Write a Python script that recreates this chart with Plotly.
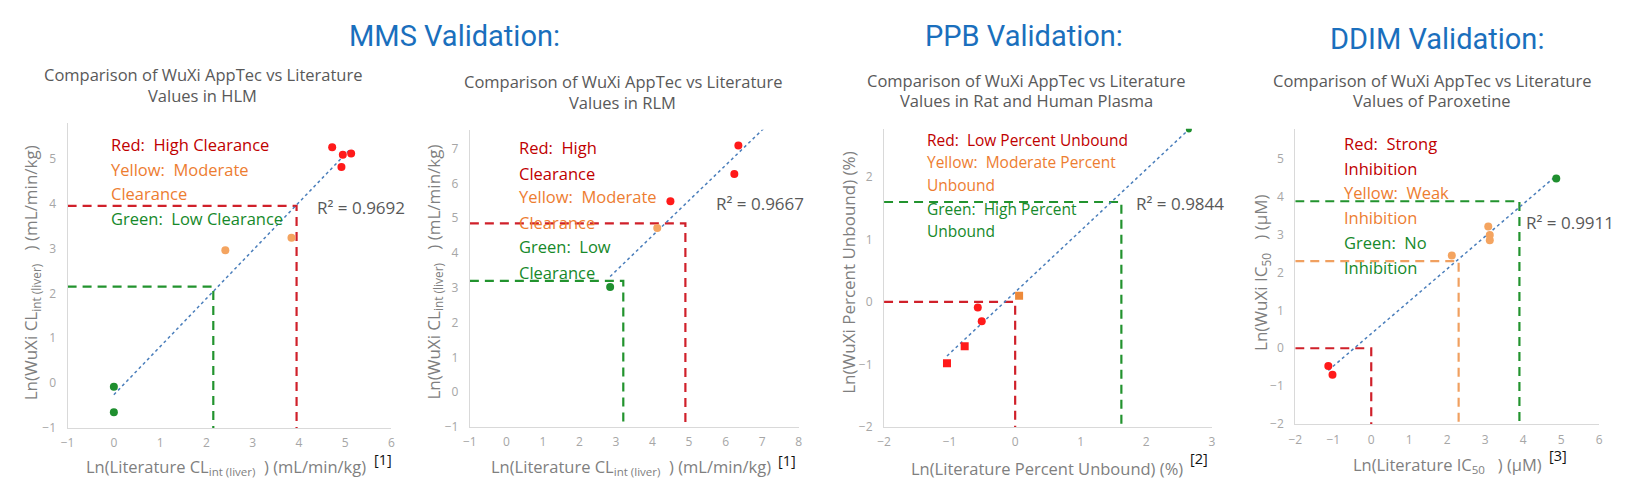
import numpy as np
import plotly.graph_objects as go

W, H = 1633, 493

# ---- data (ln values) ----
# HLM
hlm_red_x = [4.72, 4.95, 5.13, 4.92]
hlm_red_y = [5.26, 5.09, 5.12, 4.82]
hlm_yel_x = [2.41, 3.84]
hlm_yel_y = [2.96, 3.24]
hlm_grn_x = [0.0, 0.0]
hlm_grn_y = [-0.08, -0.65]
# RLM
rlm_red_x = [6.35, 6.24, 4.49]
rlm_red_y = [7.09, 6.27, 5.49]
rlm_yel_x = [4.13]
rlm_yel_y = [4.72]
rlm_grn_x = [2.84]
rlm_grn_y = [3.02]
# PPB
ppb_red_x = [-0.57, -0.51]
ppb_red_y = [-0.09, -0.31]
ppb_redsq_x = [-0.77, -1.04]
ppb_redsq_y = [-0.71, -0.98]
ppb_yelsq_x = [0.06]
ppb_yelsq_y = [0.10]
ppb_grn_x = [2.65]
ppb_grn_y = [2.76]
# DDIM
ddi_red_x = [-1.13, -1.02]
ddi_red_y = [-0.47, -0.70]
ddi_yel_x = [3.08, 3.12, 3.12, 2.12]
ddi_yel_y = [3.21, 2.99, 2.85, 2.45]
ddi_grn_x = [4.87]
ddi_grn_y = [4.48]

r2_labels = ["R² = 0.9692", "R² = 0.9667", "R² = 0.9844", "R² = 0.9911"]

# threshold cut-offs (x, y) for the dashed guides
hlm_cuts = {"red": (3.95, 3.95), "grn": (2.15, 2.15)}
rlm_cuts = {"red": (4.90, 4.85), "grn": (3.20, 3.20)}
ppb_cuts = {"red": (0.0, 0.0), "grn": (1.62, 1.60)}
ddi_cuts = {"red": (0.0, 0.0), "yel": (2.30, 2.30), "grn": (3.90, 3.88)}

RED, YEL, GRN = "#ff1a1a", "#f4a460", "#1f8f2f"
TXT_RED, TXT_YEL, TXT_GRN = "#c00000", "#ed7d31", "#16892a"
DASH = {"red": "#d0202a", "yel": "#f0a060", "grn": "#22932e"}


def px(x):
    return x / W


def py(y):
    return 1 - y / H


panels = [
    dict(groups=[(hlm_red_x, hlm_red_y, RED, "circle"), (hlm_yel_x, hlm_yel_y, YEL, "circle"),
                 (hlm_grn_x, hlm_grn_y, GRN, "circle")],
         cuts=hlm_cuts, xr=[-1, 6], yr=[-1, 5.8], xt=list(range(-1, 7)), yt=list(range(-1, 6)),
         dom=(61, 387, 125, 435), ext=0.0),
    dict(groups=[(rlm_red_x, rlm_red_y, RED, "circle"), (rlm_yel_x, rlm_yel_y, YEL, "circle"),
                 (rlm_grn_x, rlm_grn_y, GRN, "circle")],
         cuts=rlm_cuts, xr=[-1, 8], yr=[-1, 7.54], xt=list(range(-1, 9)), yt=list(range(-1, 8)),
         dom=(466, 797, 132, 434), ext=0.7),
    dict(groups=[(ppb_red_x, ppb_red_y, RED, "circle"), (ppb_redsq_x, ppb_redsq_y, RED, "square"),
                 (ppb_yelsq_x, ppb_yelsq_y, "#ed8a3a", "square"), (ppb_grn_x, ppb_grn_y, GRN, "circle")],
         cuts=ppb_cuts, xr=[-2, 3], yr=[-2, 2.77], xt=list(range(-2, 4)), yt=list(range(-2, 3)),
         dom=(883, 1213, 131, 434), ext=0.0),
    dict(groups=[(ddi_red_x, ddi_red_y, RED, "circle"), (ddi_yel_x, ddi_yel_y, YEL, "circle"),
                 (ddi_grn_x, ddi_grn_y, GRN, "circle")],
         cuts=ddi_cuts, xr=[-2, 6], yr=[-2, 5.79], xt=list(range(-2, 7)), yt=list(range(-2, 6)),
         dom=(1297, 1603, 131, 431), ext=0.0),
]

fig = go.Figure()
layout = {}

for i, p in enumerate(panels):
    n = "" if i == 0 else str(i + 1)
    xa, ya = "x" + n, "y" + n
    x0, x1, y0, y1 = p["dom"]
    ax_style = dict(showline=True, linecolor="#d9d9d9", linewidth=1.2, showgrid=False, zeroline=False,
                    ticks="", tickfont=dict(size=12, color="#a6a6a6", family="Open Sans"), fixedrange=True)
    layout["xaxis" + n] = dict(domain=[px(x0), px(x1)], range=p["xr"], tickvals=p["xt"], anchor=ya,
                               ticklabelstandoff=4, **ax_style)
    layout["yaxis" + n] = dict(domain=[py(y1), py(y0)], range=p["yr"], tickvals=p["yt"], anchor=xa,
                               ticklabelstandoff=8, **ax_style)

    # dashed guide lines
    for key, (cx, cy) in p["cuts"].items():
        fig.add_trace(go.Scatter(x=[p["xr"][0], cx, cx], y=[cy, cy, p["yr"][0]], mode="lines",
                                 line=dict(color=DASH[key], width=2.2, dash="9px,6px"),
                                 xaxis=xa, yaxis=ya, showlegend=False, hoverinfo="skip"))

    # linear trendline through all points
    allx = np.concatenate([g[0] for g in p["groups"]])
    ally = np.concatenate([g[1] for g in p["groups"]])
    k, b = np.polyfit(allx, ally, 1)
    tx = np.array([allx.min(), allx.max() + p["ext"]])
    fig.add_trace(go.Scatter(x=tx, y=k * tx + b, mode="lines",
                             line=dict(color="#4a7ebb", width=1.5, dash="dot"),
                             xaxis=xa, yaxis=ya, showlegend=False, hoverinfo="skip"))

    for gx, gy, col, sym in p["groups"]:
        size = 6 if (i == 2 and col == GRN) else 8
        fig.add_trace(go.Scatter(x=gx, y=gy, mode="markers",
                                 marker=dict(color=col, size=size, symbol=sym),
                                 xaxis=xa, yaxis=ya, showlegend=False))

ann = []


def text(x, y, s, size, color, xanchor="center", family="Open Sans", angle=0):
    ann.append(dict(x=px(x), y=py(y), xref="paper", yref="paper", text=s, showarrow=False,
                    xanchor=xanchor, yanchor="middle", textangle=angle,
                    font=dict(size=size, color=color, family=family)))


# section headers
HEAD = "#1a6fbd"
text(451, 37, "MMS Validation:", 29, HEAD, family="Roboto")
text(1024, 37, "PPB Validation:", 29, HEAD, family="Roboto")
text(1440, 40, "DDIM Validation:", 29, HEAD, family="Roboto")

# chart titles
TGRAY = "#595959"
titles = [(197, 76, "Comparison of WuXi AppTec vs Literature"), (197, 97, "Values in HLM"),
          (620, 83, "Comparison of WuXi AppTec vs Literature"), (620, 104, "Values in RLM"),
          (1026, 82, "Comparison of WuXi AppTec vs Literature"), (1026, 102, "Values in Rat and Human Plasma"),
          (1435, 82, "Comparison of WuXi AppTec vs Literature"), (1435, 102, "Values of Paroxetine")]
for x, y, s in titles:
    text(x, y, s, 16.5, TGRAY)

# colour key text
keys = [
    (103, [147, 172, 197, 222], 16.5,
     [("Red:  High Clearance", TXT_RED), ("Yellow:  Moderate", TXT_YEL), ("Clearance", TXT_YEL),
      ("Green:  Low Clearance", TXT_GRN)]),
    (513, [150, 176, 200, 226, 251, 277], 16.5,
     [("Red:  High", TXT_RED), ("Clearance", TXT_RED), ("Yellow:  Moderate", TXT_YEL), ("Clearance", TXT_YEL),
      ("Green:  Low", TXT_GRN), ("Clearance", TXT_GRN)]),
    (924, [142, 165, 188, 212, 235], 15.5,
     [("Red:  Low Percent Unbound", TXT_RED), ("Yellow:  Moderate Percent", TXT_YEL), ("Unbound", TXT_YEL),
      ("Green:  High Percent", TXT_GRN), ("Unbound", TXT_GRN)]),
    (1344, [146, 171, 196, 221, 246, 272], 16.5,
     [("Red:  Strong", TXT_RED), ("Inhibition", TXT_RED), ("Yellow:  Weak", TXT_YEL), ("Inhibition", TXT_YEL),
      ("Green:  No", TXT_GRN), ("Inhibition", TXT_GRN)]),
]
for x, ys, size, lines in keys:
    for y, (s, c) in zip(ys, lines):
        text(x, y, s, size, c, xanchor="left")

# R squared labels
for (x, y), s in zip([(310, 211), (712, 207), (1135, 207), (1527, 226)], r2_labels):
    text(x, y, s, 17, TGRAY, xanchor="left")

# axis titles
AGRAY = "#7f7f7f"
ytitles = [(25, "Ln(WuXi CL<sub>int (liver)</sub>   ) (mL/min/kg)"),
           (430, "Ln(WuXi CL<sub>int (liver)</sub>   ) (mL/min/kg)"),
           (847, "Ln(WuXi Percent Unbound) (%)"),
           (1263, "Ln(WuXi IC<sub>50</sub>   ) (µM)")]
for x, s in ytitles:
    text(x, 277, s, 17, AGRAY, angle=-90)

xtitles = [(220, 475, "Ln(Literature CL<sub>int (liver)</sub>  ) (mL/min/kg)"),
           (628, 475, "Ln(Literature CL<sub>int (liver)</sub>  ) (mL/min/kg)"),
           (1047, 476, "Ln(Literature Percent Unbound) (%)"),
           (1450, 473, "Ln(Literature IC<sub>50</sub>   ) (µM)")]
for x, y, s in xtitles:
    text(x, y, s, 16.5, AGRAY)

for x, y, s in [(379, 467, "[1]"), (785, 468, "[1]"), (1200, 466, "[2]"), (1562, 463, "[3]")]:
    text(x, y, s, 14.5, "#111111")

fig.update_layout(
    width=W, height=H, margin=dict(l=0, r=0, t=0, b=0),
    paper_bgcolor="white", plot_bgcolor="white",
    annotations=ann, showlegend=False, **layout,
)

fig.write_html("out.html", config={"displayModeBar": False},
               post_script="document.body.style.margin='0';document.body.style.overflow='hidden';")
